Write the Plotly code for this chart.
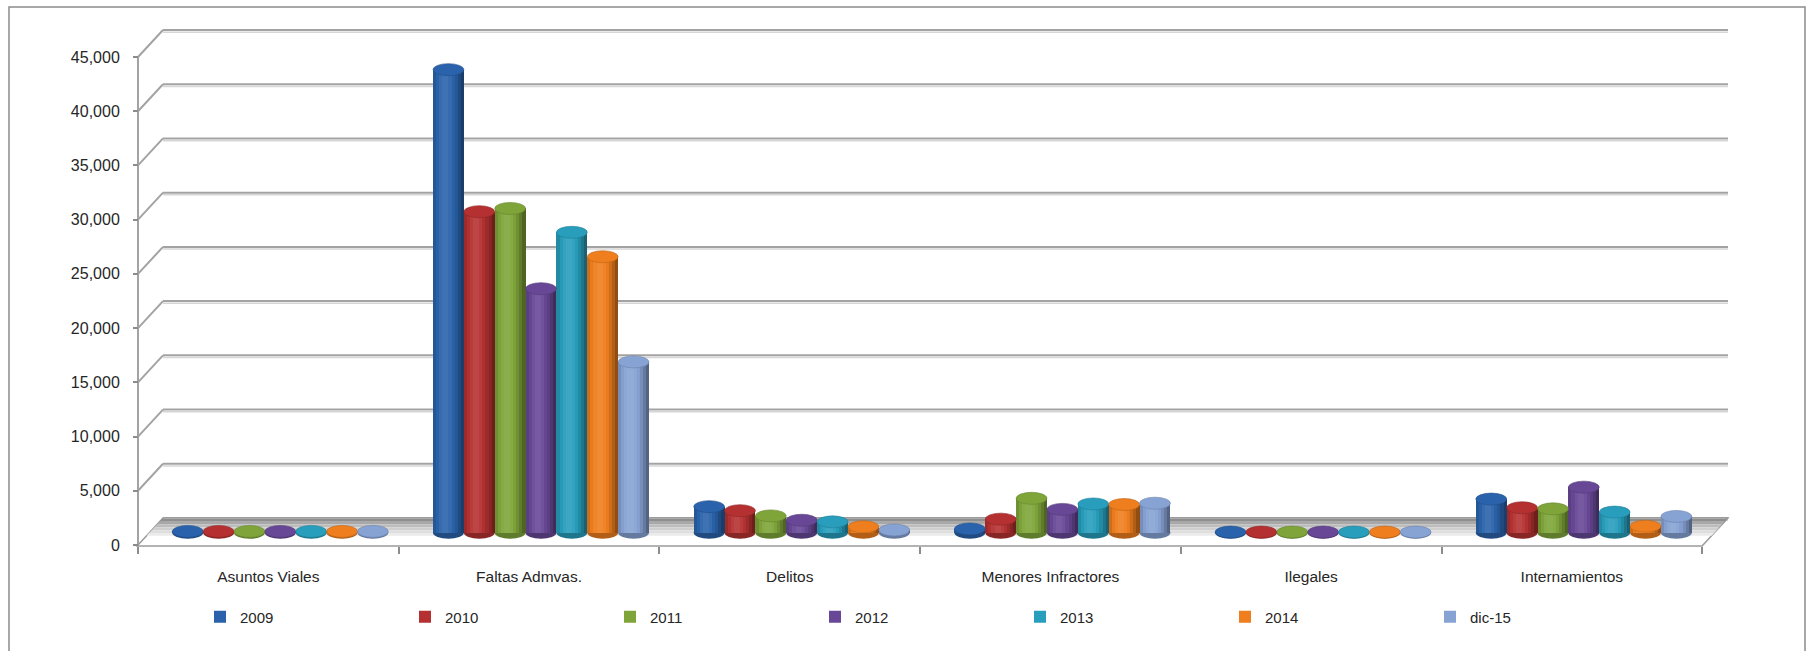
import plotly.graph_objects as go
import math

# ---------------- data ----------------
categories = ["Asuntos Viales", "Faltas Admvas.", "Delitos", "Menores Infractores", "Ilegales", "Internamientos"]
series_names = ["2009", "2010", "2011", "2012", "2013", "2014", "dic-15"]
v2009 = [120, 42700, 2400, 350, 60, 3100]
v2010 = [120, 29600, 2030, 1250, 60, 2300]
v2011 = [120, 29900, 1550, 3170, 60, 2200]
v2012 = [120, 22500, 1150, 2150, 60, 4200]
v2013 = [120, 27700, 1000, 2650, 60, 1900]
v2014 = [120, 25450, 550, 2600, 60, 600]
vdic15 = [120, 15750, 250, 2720, 60, 1500]
series_values = [v2009, v2010, v2011, v2012, v2013, v2014, vdic15]
y_ticks = list(range(0, 45001, 5000))

colors = ["#2A63AB", "#B53131", "#7FA53A", "#684896", "#289EBC", "#EE7E1E", "#87A3D4"]

# ---------------- geometry (pixels) ----------------
W, H = 1810, 651
PL, PR, PT, PB = 138, 1728, 20, 560
PPU = 488 / 45000.0          # pixels per unit
FRONT0 = 545                 # pixel row of value 0 on the front axis
BACK_DY = 27                 # depth offset (px up)
BACK_DX = 25                 # depth offset (px right)
BAR0 = 532.7                 # pixel row of value 0 for the bars (mid depth)
CAT_W = 260.7
BAR_C0 = 280.3
LAB_C0 = 268.35

FONT = "Liberation Sans, Arial, sans-serif"
TXT = "#262626"
GRID = "#a3a3a3"

def xp(p):
    return (p - PL) / (PR - PL)

def yp(p):
    return (PB - p) / (PB - PT)

def yf(p):
    return (FRONT0 - p) / PPU

def shade(hexc, b):
    c = [int(hexc[i:i + 2], 16) for i in (1, 3, 5)]
    if b <= 1:
        c = [x * b for x in c]
    else:
        c = [x + (255 - x) * (b - 1) for x in c]
    return "rgb(%d,%d,%d)" % tuple(max(0, min(255, round(x))) for x in c)

fig = go.Figure()

nser = len(series_names)
bw = 216.0 / nser / CAT_W
xs = list(range(len(categories)))
NSTRIP = 10
shapes = []

# outer border
shapes.append(dict(type="rect", xref="paper", yref="paper", x0=xp(9), x1=xp(1805), y0=yp(700), y1=yp(7),
                   line=dict(color="#8c8c8c", width=1.5), fillcolor="rgba(0,0,0,0)", layer="below"))

# back wall gridlines + left wall diagonals
for v in y_ticks:
    yb = v + BACK_DY / PPU
    shapes.append(dict(type="line", xref="paper", yref="y2", x0=xp(PL + BACK_DX), x1=1, y0=yb - 2.2 / PPU, y1=yb - 2.2 / PPU,
                       line=dict(color="#d6d6d6", width=1.5), layer="below"))
    shapes.append(dict(type="line", xref="paper", yref="y2", x0=xp(PL + BACK_DX), x1=1, y0=yb, y1=yb,
                       line=dict(color=GRID, width=2), layer="below"))
    if v > 0:
        shapes.append(dict(type="line", xref="paper", yref="y2", x0=xp(PL), x1=xp(PL + BACK_DX), y0=v, y1=yb,
                           line=dict(color=GRID, width=2), layer="below"))
# front vertical axis line
shapes.append(dict(type="line", xref="paper", yref="y2", x0=0, x1=0, y0=0, y1=y_ticks[-1],
                   line=dict(color=GRID, width=2), layer="below"))

# floor slab
def para(ytop, ybot, fill, line=None):
    k = BACK_DX / BACK_DY
    xl_t = PL + BACK_DX - (ytop - (FRONT0 - BACK_DY)) * k
    xl_b = PL + BACK_DX - (ybot - (FRONT0 - BACK_DY)) * k
    xr_t = PR - (ytop - (FRONT0 - BACK_DY)) * k
    xr_b = PR - (ybot - (FRONT0 - BACK_DY)) * k
    path = "M %f,%f L %f,%f L %f,%f L %f,%f Z" % (xp(xl_b), yf(ybot), xp(xl_t), yf(ytop), xp(xr_t), yf(ytop), xp(xr_b), yf(ybot))
    d = dict(type="path", xref="paper", yref="y2", path=path, fillcolor=fill, layer="below",
             line=dict(width=0) if line is None else line)
    return d

top = FRONT0 - BACK_DY
shapes.append(para(top, FRONT0 + 1, "white", dict(color="#9a9a9a", width=1.5)))
stripe_cols = ["#8e8e8e", "#a8a8a8", "#bdbdbd", "#cfcfcf", "#dedede", "#ebebeb"]
sh = 17.0 / len(stripe_cols)
for k, c in enumerate(stripe_cols):
    shapes.append(para(top + 0.8 + k * sh, top + 0.8 + (k + 1) * sh, c))

# bars: legend trace + cylinder strips
for j, (name, vals, col) in enumerate(zip(series_names, series_values, colors)):
    off0 = -nser * bw / 2 + j * bw
    fig.add_trace(go.Bar(x=xs, y=vals, name=name, offset=off0, width=bw, marker=dict(color=col, line=dict(width=0)),
                         legendgroup=name, hoverinfo="y+name"))
    for k in range(NSTRIP):
        t = (k + 0.5) / NSTRIP
        b = 0.68 + 0.42 * math.cos((t - 0.4) * math.pi)
        fig.add_trace(go.Bar(x=xs, y=vals, offset=off0 + k * bw / NSTRIP, width=bw / NSTRIP * 1.02,
                             marker=dict(color=shade(col, b), line=dict(width=0)),
                             showlegend=False, legendgroup=name, hoverinfo="skip"))
    hh = 6.0 / PPU
    for i, v in zip(xs, vals):
        x0, x1 = i + off0, i + off0 + bw
        shapes.append(dict(type="circle", xref="x", yref="y", x0=x0, x1=x1, y0=-hh, y1=hh,
                           fillcolor=shade(col, 0.75), line=dict(width=0), layer="below"))
        shapes.append(dict(type="circle", xref="x", yref="y", x0=x0, x1=x1, y0=v - hh, y1=v + hh,
                           fillcolor=shade(col, 1.0), line=dict(color=shade(col, 0.8), width=0.6), layer="above"))

# dummy trace to carry front category/value axes
fig.add_trace(go.Scatter(x=categories, y=[0] * len(categories), xaxis="x2", yaxis="y2", mode="markers",
                         marker=dict(opacity=0), showlegend=False, hoverinfo="skip"))

fig.update_layout(
    width=W, height=H, autosize=False,
    margin=dict(l=PL, r=W - PR, t=PT, b=H - PB, autoexpand=False),
    paper_bgcolor="white", plot_bgcolor="rgba(0,0,0,0)",
    barmode="overlay", bargap=0,
    font=dict(family=FONT, color=TXT),
    showlegend=True,
    xaxis=dict(range=[(PL - BAR_C0) / CAT_W, (PR - BAR_C0) / CAT_W], visible=False, fixedrange=True),
    yaxis=dict(range=[-(PB - BAR0) / PPU, (BAR0 - PT) / PPU], visible=False, fixedrange=True),
    xaxis2=dict(type="category", categoryorder="array", categoryarray=categories, overlaying="x",
                anchor="free", position=yp(546), side="bottom",
                range=[(PL - LAB_C0) / CAT_W, (PR - LAB_C0) / CAT_W],
                tickson="boundaries", ticks="outside", ticklen=7, tickwidth=1.5, tickcolor="#8c8c8c",
                showline=False, showgrid=False, zeroline=False, ticklabelstandoff=19,
                tickfont=dict(family=FONT, size=15.5, color=TXT)),
    yaxis2=dict(overlaying="y", anchor="free", position=0, side="left",
                range=[yf(PB), yf(PT)], tickmode="array", tickvals=y_ticks, tickformat=",d",
                ticks="outside", ticklen=5, tickwidth=1.5, tickcolor="#8c8c8c",
                showline=False, showgrid=False, zeroline=False, ticklabelstandoff=10,
                tickfont=dict(family=FONT, size=16, color=TXT)),
    legend=dict(orientation="h", xref="container", yref="container", x=200 / W, xanchor="left",
                y=1 - 617 / H, yanchor="middle", entrywidth=160, entrywidthmode="pixels",
                itemwidth=30, font=dict(family=FONT, size=15, color=TXT), bgcolor="rgba(0,0,0,0)",
                traceorder="normal"),
    shapes=shapes,
)

fig.write_html("out.html", config={"displayModeBar": False},
               post_script="document.body.style.margin='0px';")
